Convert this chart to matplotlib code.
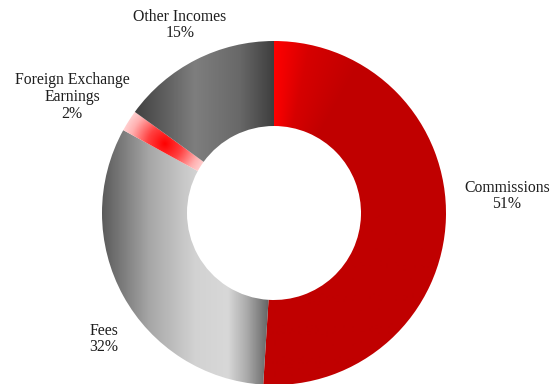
import numpy as np
import matplotlib.pyplot as plt
from matplotlib.colors import LinearSegmentedColormap

# income mix, clockwise from 12 o'clock
labels = ["Commissions", "Fees", "Foreign Exchange\nEarnings", "Other Incomes"]
shares = [51, 32, 2, 15]

# where each label sits (pixel coords, y from top)
label_pos = [(507, 196), (104, 339), (72, 97), (180, 25)]

W, H = 553, 384
cx, cy = 274, H - 213
r_out, r_in = 172, 87

fig = plt.figure(figsize=(W / 100, H / 100), dpi=100)
ax = fig.add_axes([0, 0, 1, 1])

wedges, _ = ax.pie(shares, startangle=90, counterclock=False,
                   radius=r_out, center=(cx, cy), frame=True,
                   wedgeprops=dict(width=r_out - r_in, linewidth=0))
ax.set_aspect("equal")
ax.axis("off")

# horizontal gradient stops (x position in px, colour); None = special fill
grads = [
    None,
    [(98, "#555555"), (150, "#a8a8a8"), (195, "#d2d2d2"), (228, "#d8d8d8"),
     (248, "#a8a8a8"), (272, "#5a5a5a")],
    None,
    [(130, "#3c3c3c"), (195, "#7e7e7e"), (240, "#686868"), (274, "#3e3e3e")],
]

xs = np.linspace(0, W, W + 1)
ys = np.linspace(0, H, H + 1)
X, Y = np.meshgrid(xs, ys)
# clockwise angle from 12 o'clock, degrees
ang = np.degrees(np.arctan2(X - cx, Y - cy)) % 360

for i, (w, g) in enumerate(zip(wedges, grads)):
    w.set_facecolor("none")
    if i == 0:
        # big red slice: bright edge at the top, fading into solid red
        cmap = LinearSegmentedColormap.from_list(
            "red", [(0, "#ff0000"), (0.4, "#d60000"), (1, "#c00000")])
        img = cmap(np.clip(ang / 30, 0, 1))
    elif g is None:
        # small slice: red glow in the middle of the band
        mid = np.deg2rad((w.theta1 + w.theta2) / 2)
        rm = (r_out + r_in) / 2
        px, py = cx + rm * np.cos(mid), cy + rm * np.sin(mid)
        d = np.hypot(X - px, Y - py) / 52
        cmap = LinearSegmentedColormap.from_list(
            "fx", ["#ff0000", "#ff4040", "#ffb0b0", "#fff0f0"])
        img = cmap(np.clip(d, 0, 1))
    else:
        stops = [s[0] for s in g]
        pos = [(s - stops[0]) / (stops[-1] - stops[0]) for s in stops]
        cmap = LinearSegmentedColormap.from_list("g", list(zip(pos, [s[1] for s in g])))
        t = np.clip((X - stops[0]) / (stops[-1] - stops[0]), 0, 1)
        img = cmap(t)
    im = ax.imshow(img, extent=(0, W, 0, H), origin="lower",
                   interpolation="bilinear", zorder=1)
    im.set_clip_path(w)

ax.set_xlim(0, W)
ax.set_ylim(0, H)

for lab, v, (x, y) in zip(labels, shares, label_pos):
    ax.text(x, H - y, f"{lab}\n{v}%", ha="center", va="center",
            family="Liberation Serif", fontsize=11.3, color="#1e1e1e",
            linespacing=1.05)

fig.savefig("out.png", dpi=100)
